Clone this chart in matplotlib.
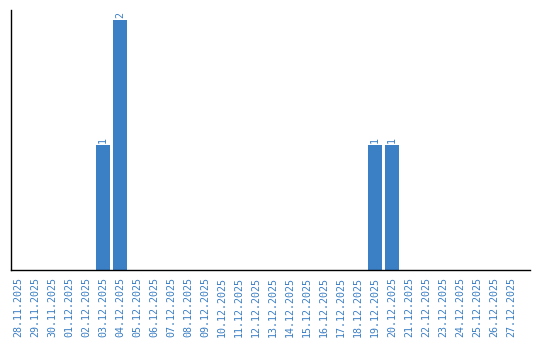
import matplotlib
matplotlib.use("Agg")
import matplotlib.pyplot as plt

dates = ["28.11.2025", "29.11.2025", "30.11.2025", "01.12.2025", "02.12.2025",
         "03.12.2025", "04.12.2025", "05.12.2025", "06.12.2025", "07.12.2025",
         "08.12.2025", "09.12.2025", "10.12.2025", "11.12.2025", "12.12.2025",
         "13.12.2025", "14.12.2025", "15.12.2025", "16.12.2025", "17.12.2025",
         "18.12.2025", "19.12.2025", "20.12.2025", "21.12.2025", "22.12.2025",
         "23.12.2025", "24.12.2025", "25.12.2025", "26.12.2025", "27.12.2025"]
counts = [0, 0, 0, 0, 0, 1, 2, 0, 0, 0,
          0, 0, 0, 0, 0, 0, 0, 0, 0, 0,
          0, 1, 1, 0, 0, 0, 0, 0, 0, 0]

color = "#3b7fc4"
font = "DejaVu Sans Mono"
fig = plt.figure(figsize=(5.4, 3.4), dpi=100)
ax = fig.add_axes([11/540, 70/340, 519/540, 260/340])
x = list(range(len(dates)))
ax.bar(x, counts, width=0.82, color=color)
for xi, v in zip(x, counts):
    if v > 0:
        ax.text(xi, v + 0.02, str(v), rotation=90, ha="center", va="bottom",
                color=color, fontsize=7.2, family=font)
ax.set_xlim(-0.41, 30.1)
ax.set_ylim(0, 2.08)
ax.set_xticks(x)
ax.set_xticklabels(dates, rotation=90, color=color, fontsize=7.2, family=font)
ax.set_yticks([])
ax.tick_params(axis="x", length=0, pad=5)
for s in ["top", "right"]:
    ax.spines[s].set_visible(False)
ax.spines["left"].set_linewidth(1)
ax.spines["bottom"].set_linewidth(1)
fig.savefig("out.png", dpi=100)
